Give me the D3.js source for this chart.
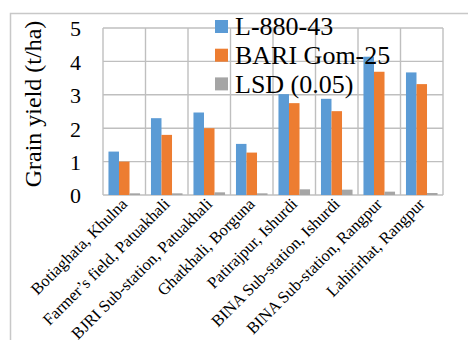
<!DOCTYPE html>
<html><head><meta charset="utf-8">
<script src="https://cdn.jsdelivr.net/npm/d3@7"></script>
<style>body{margin:0;background:#fff}svg{display:block}svg text{font-family:"Liberation Serif","Times New Roman",serif}</style>
</head><body>
<script>
const categories = ["Botiaghata, Khulna","Farmer’s field, Patuakhali","BJRI Sub-station, Patuakhali","Ghatkhali, Borguna","Patirajpur, Ishurdi","BINA Sub-station, Ishurdi","BINA Sub-station, Rangpur","Lahirirhat, Rangpur"];
const seriesNames = ["L-880-43","BARI Gom-25","LSD (0.05)"];
const l880 = [1.30, 2.30, 2.47, 1.53, 3.02, 2.88, 4.14, 3.67];
const bariGom25 = [1.00, 1.80, 2.00, 1.27, 2.75, 2.51, 3.69, 3.32];
const lsd = [0.05, 0.05, 0.08, 0.05, 0.17, 0.16, 0.10, 0.06];
const yTicks = [0,1,2,3,4,5];
const colors = ["#5B9BD5","#ED7D31","#A5A5A5"];
const series = [l880, bariGom25, lsd];

(function(){
const W=468,H=340;
const svg=d3.select("body").append("svg").attr("width",W).attr("height",H);
svg.append("path").attr("d",`M10.5,${H} V13.5 H${W}`).attr("fill","none").attr("stroke","#c8c8c8").attr("stroke-width",1.5);

const pL=103,pR=443,pT=28,pB=195;
const x=d3.scaleBand().domain(categories).range([pL,pR]);
const y=d3.scaleLinear().domain([0,5]).range([pB,pT]);
const xs=d3.scaleBand().domain(d3.range(3)).range([0,x.bandwidth()]).paddingOuter(0.52).paddingInner(0);

const g=svg.append("g");
g.selectAll(".hg").data(yTicks).join("line").attr("x1",pL).attr("x2",pR)
 .attr("y1",d=>y(d)).attr("y2",d=>y(d)).attr("stroke","#bfbfbf").attr("stroke-width",1.4);
g.selectAll(".vg").data(categories.concat(["_end"])).join("line")
 .attr("x1",(d,i)=>i<categories.length?x(d):pR).attr("x2",(d,i)=>i<categories.length?x(d):pR)
 .attr("y1",pT).attr("y2",pB).attr("stroke","#bfbfbf").attr("stroke-width",1.4);

series.forEach((s,si)=>{
  g.selectAll(".b"+si).data(s).join("rect").attr("class","b"+si)
   .attr("x",(d,i)=>x(categories[i])+xs(si)).attr("width",xs.bandwidth())
   .attr("y",d=>y(d)).attr("height",d=>pB-y(d)).attr("fill",colors[si]);
});

const yAxis=d3.axisLeft(y).tickValues(yTicks).tickSize(0).tickPadding(0).tickFormat(d3.format("d"));
const ya=svg.append("g").attr("transform","translate(81,0)").call(yAxis);
ya.attr("font-family",null).attr("font-size",null);
ya.select(".domain").remove();
ya.selectAll("text").attr("font-size",22).attr("fill","#000").attr("dy","0.36em");

svg.append("text").attr("transform","translate(41,104) rotate(-90)").attr("text-anchor","middle")
 .attr("font-size",24).text("Grain yield (t/ha)");

svg.selectAll(".xl").data(categories).join("text").attr("class","xl")
 .attr("transform",d=>`translate(${x(d)+x.bandwidth()/2+4},${pB+10}) rotate(-45)`)
 .attr("text-anchor","end").attr("font-size",16.5).text(d=>d);

const lg=svg.append("g");
seriesNames.forEach((n,i)=>{
  lg.append("rect").attr("x",215).attr("y",20+i*28.7).attr("width",13).attr("height",13).attr("fill",colors[i]);
  lg.append("text").attr("x",235).attr("y",35+i*29).attr("font-size",26).text(n);
});
})();
</script>
</body></html>
